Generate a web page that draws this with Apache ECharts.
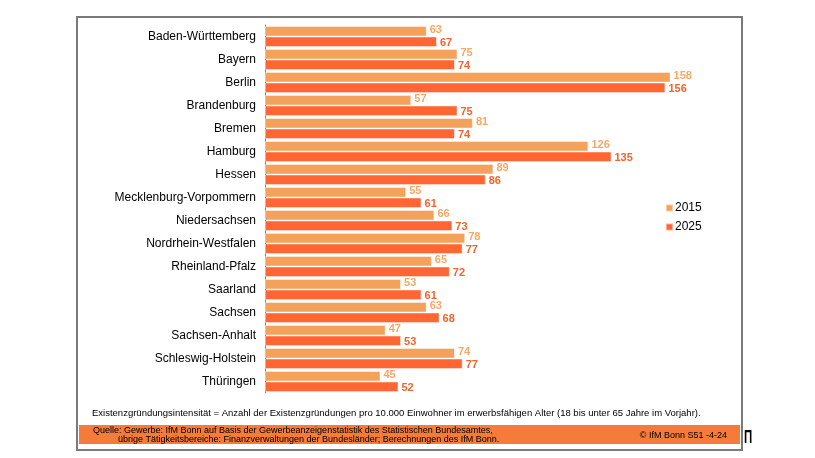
<!DOCTYPE html>
<html>
<head>
<meta charset="utf-8">
<script src="https://cdn.jsdelivr.net/npm/echarts@6/dist/echarts.min.js"></script>
<style>
  html, body { margin: 0; padding: 0; background: #fff; }
  #chart { width: 815px; height: 458px; }
</style>
</head>
<body>
<div id="chart"></div>
<script>
// Bundeslaender, top to bottom
const states = [
    "Baden-Württemberg", "Bayern", "Berlin", "Brandenburg", "Bremen", "Hamburg",
    "Hessen", "Mecklenburg-Vorpommern", "Niedersachsen", "Nordrhein-Westfalen",
    "Rheinland-Pfalz", "Saarland", "Sachsen", "Sachsen-Anhalt",
    "Schleswig-Holstein", "Thüringen"
];
const values2015 = [63, 75, 158, 57, 81, 126, 89, 55, 66, 78, 65, 53, 63, 47, 74, 45];
const values2025 = [67, 74, 156, 75, 74, 135, 86, 61, 73, 77, 72, 61, 68, 53, 77, 52];
const seriesNames = ["2015", "2025"];

const footnote = "Existenzgründungsintensität = Anzahl der Existenzgründungen pro 10.000 Einwohner im erwerbsfähigen Alter (18 bis unter 65 Jahre im Vorjahr).";
const sourceLine1 = "Quelle: Gewerbe: IfM Bonn auf Basis der Gewerbeanzeigenstatistik des Statistischen Bundesamtes,";
const sourceLine2 = "übrige Tätigkeitsbereiche: Finanzverwaltungen der Bundesländer; Berechnungen des IfM Bonn.";
const copyright = "© IfM Bonn S51 -4-24";

const col2015 = "#F4A15B";
const col2025 = "#FF6633";
const font = "Arial, 'Liberation Sans', sans-serif";

const chart = echarts.init(document.getElementById("chart"), null, { renderer: "canvas" });

chart.setOption({
    animation: false,
    textStyle: { fontFamily: font },
    grid: { left: 265, right: 88, top: 25, bottom: 65 },
    legend: {
        orient: "vertical",
        left: 660,
        top: 197,
        icon: "rect",
        itemWidth: 7,
        itemHeight: 7,
        itemGap: 7,
        textStyle: { fontSize: 12, color: "#000", fontFamily: font, padding: [0, 0, 0, -3] },
        data: seriesNames
    },
    xAxis: {
        type: "value",
        min: 0,
        max: 180,
        show: false
    },
    yAxis: {
        type: "category",
        data: states,
        inverse: true,
        axisLine: { show: true, lineStyle: { color: "#808080", width: 1 } },
        axisTick: { show: false },
        axisLabel: { color: "#000", fontSize: 12, margin: 9, fontFamily: font }
    },
    series: [
        {
            name: seriesNames[0],
            type: "bar",
            data: values2015,
            barGap: "0%",
            barCategoryGap: "8%",
            itemStyle: { color: col2015, borderColor: "rgba(255,255,255,0.45)", borderWidth: 1 },
            label: {
                show: true, position: "right", distance: 3, offset: [0, -1],
                color: "#F6A866", fontSize: 11, fontWeight: "bold", fontFamily: font
            }
        },
        {
            name: seriesNames[1],
            type: "bar",
            data: values2025,
            barGap: "0%",
            barCategoryGap: "8%",
            itemStyle: { color: col2025, borderColor: "rgba(255,255,255,0.45)", borderWidth: 1 },
            label: {
                show: true, position: "right", distance: 3, offset: [0, 1],
                color: "#EE6530", fontSize: 11, fontWeight: "bold", fontFamily: font
            }
        }
    ],
    graphic: [
        // outer frame
        {
            type: "rect", z: 10,
            shape: { x: 77, y: 17, width: 665, height: 433 },
            style: { fill: "none", stroke: "#7a7a7a", lineWidth: 2 }
        },
        // footnote
        {
            type: "text", left: 92, top: 408,
            style: { text: footnote, fill: "#000", font: "9.5px " + font }
        },
        // source box
        {
            type: "rect",
            shape: { x: 79, y: 425, width: 661, height: 19 },
            style: { fill: "#F47B3A" }
        },
        {
            type: "text", left: 93, top: 426,
            style: { text: sourceLine1, fill: "#000", font: "9px " + font }
        },
        {
            type: "text", left: 118, top: 435,
            style: { text: sourceLine2, fill: "#000", font: "9px " + font }
        },
        {
            type: "text", right: 88, top: 431,
            style: { text: copyright, fill: "#000", font: "9px " + font }
        },
        {
            type: "text", x: 744, y: 428, scaleX: 0.6,
            style: { text: "Π", fill: "#000", font: "bold 19px " + font }
        }
    ]
});
</script>
</body>
</html>
